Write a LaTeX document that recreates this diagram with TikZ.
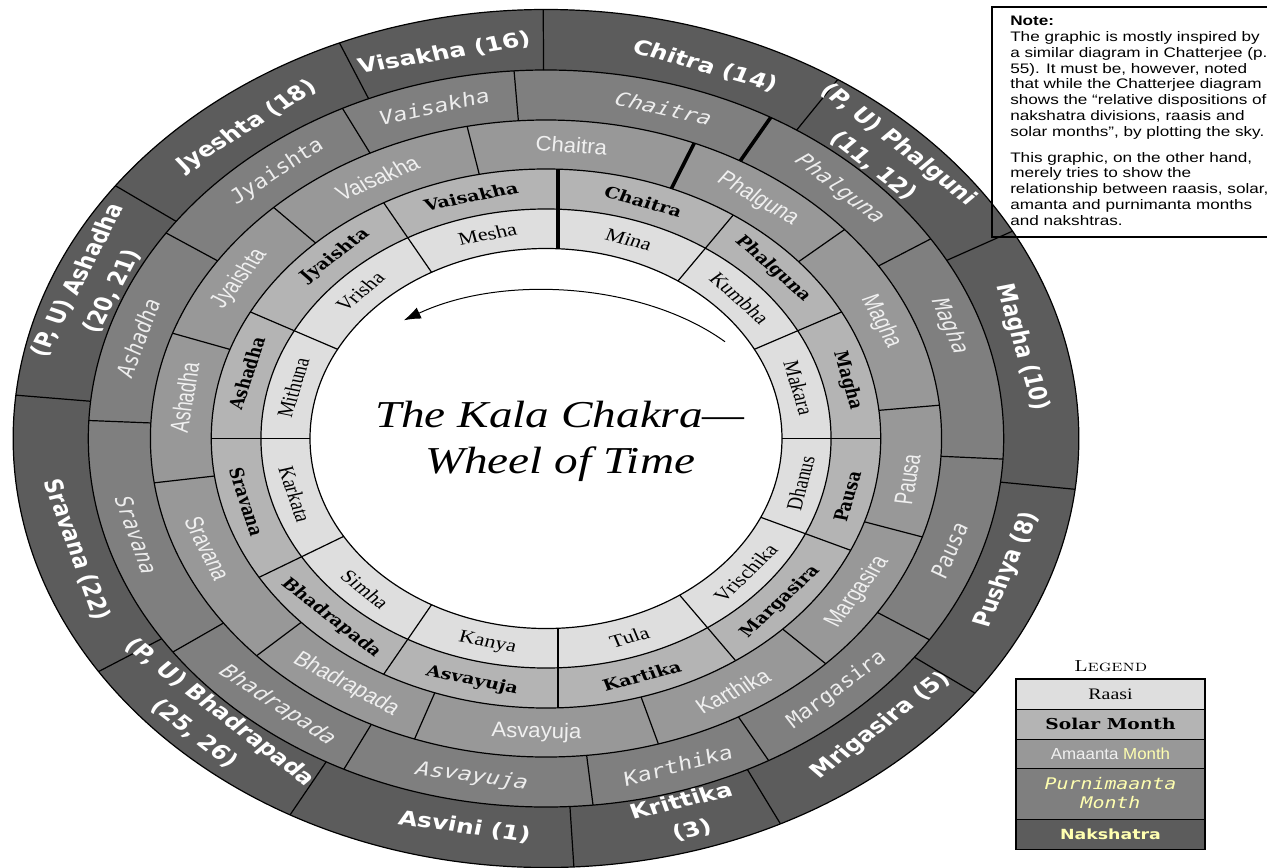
\documentclass[tikz,border=0pt]{standalone}
\usepackage{fontspec}
\usetikzlibrary{arrows.meta}

\newfontfamily\timesfont{Liberation Serif}
\newfontfamily\bookfont{DejaVu Serif}
\newfontfamily\narrowfont[FakeStretch=0.85]{Liberation Sans}
\newfontfamily\purnifont{DejaVu Sans Mono}
\newfontfamily\nakfont{DejaVu Sans}
\newfontfamily\notefont{Liberation Sans}

\definecolor{raasicol}{HTML}{DEDEDE}
\definecolor{solarcol}{HTML}{B4B4B4}
\definecolor{amantacol}{HTML}{989898}
\definecolor{purnicol}{HTML}{7F7F7F}
\definecolor{nakcol}{HTML}{5C5C5C}
\definecolor{amtext}{HTML}{F0F0F0}
\definecolor{pntext}{HTML}{EDEDED}
\definecolor{legyellow}{HTML}{FFFFB0}

\begin{document}
\begin{tikzpicture}[x=1pt, y=1pt, xscale=1.242,
    ring/.style={draw=black, line width=1.2pt},
    startline/.style={draw=black, line width=3.6pt},
    raasilab/.style={transform shape, inner sep=0pt, font=\timesfont\fontsize{18}{20}\selectfont},
    solarlab/.style={transform shape, inner sep=0pt, font=\bookfont\bfseries\fontsize{15.5}{18}\selectfont},
    amantalab/.style={transform shape, inner sep=0pt, text=amtext, font=\narrowfont\fontsize{21}{23}\selectfont},
    purnilab/.style={transform shape, inner sep=0pt, text=pntext, font=\purnifont\itshape\fontsize{19}{21}\selectfont},
    naklab/.style={transform shape, inner sep=0pt, text=white, align=center, font=\nakfont\bfseries\fontsize{20}{30}\selectfont},
    notetext/.style={transform shape, inner sep=0pt, align=left, font=\notefont\fontsize{13.8}{15.8}\selectfont},
    titletext/.style={transform shape, align=center, font=\timesfont\itshape\fontsize{38}{46}\selectfont},
    legrow/.style={transform shape, draw=black, line width=0.9pt, minimum width=151, inner sep=0pt, align=center},
  ]
   \useasboundingbox (-439.6,-428.5) rectangle (580.5,438.5);
   \fill[white] (-439.6,-428.5) rectangle (580.5,438.5);

   % note box
   \fill[white] (359.1,201.5) rectangle (586,431.5);
   \node[notetext, anchor=north west] (note) at (373.6,422.5) {\textbf{Note:}\\
     The graphic is mostly inspired by\\
     a similar diagram in Chatterjee (p.\\
     55). It must be, however, noted\\
     that while the Chatterjee diagram\\
     shows the “relative dispositions of\\
     nakshatra divisions, raasis and\\
     solar months”, by plotting the sky.\\[10pt]
     This graphic, on the other hand,\\
     merely tries to show the\\
     relationship between raasis, solar,\\
     amanta and purnimanta months\\
     and nakshtras.};

   % the rings
   \fill[nakcol] (0,0) circle (429);
   \fill[purnicol] (0,0) circle (368.5);
   \fill[amantacol] (0,0) circle (318.5);
   \fill[solarcol] (0,0) circle (269.5);
   \fill[raasicol] (0,0) circle (229.5);
   \fill[white] (0,0) circle (190);
   \foreach \r in {190,229.5,269.5,318.5,368.5,429}
     \draw[ring] (0,0) circle (\r);

   % divisions: raasi and solar month
   \foreach \a in {56,28,0,-24.5,-55.5,-119,-149,180,152,119}
     \draw[ring] (\a:190) -- (\a:269.5);
   \draw[ring] (9.66,-189.75) -- (9.66,-269.33);
   \draw[startline] (9.66,189.75) -- (9.66,269.33);
   % divisions: amanta month
   \foreach \a in {101.5,133.5,160.7,188,223,250.6,286.5,315,342,6,41}
     \draw[ring] (\a:269.5) -- (\a:318.5);
   \draw[startline] (68:269.5) -- (68:318.5);
   % divisions: purnimanta month
   \foreach \a in {94,116.4,146.1,177.2,215.4,243.8,275.9,299.1,326.9,356.8,32.8}
     \draw[ring] (\a:318.5) -- (\a:368.5);
   \draw[startline] (60.6:318.5) -- (60.6:368.5);
   % divisions: nakshatra
   \foreach \a in {56.8,90.3,112.8,143.9,174.2,212.9,241.3,273,296.1,323.6,353.2,28.9}
     \draw[ring] (\a:368.5) -- (\a:429);

   % labels
   \foreach \a/\lab [count=\i, evaluate=\a as \rot using {\a-90+180*(sin(\a)<0)}] in
     {103/Mesha, 71.5/Mina, 42/Kumbha, 14/Makara, -12.25/Dhanus, -40/Vrischika,
      -71.3/Tula, -103/Kanya, 226/Simha, 195.5/Karkata, 166/Mithuna, 135.5/Vrisha}
     \node[raasilab, rotate=\rot] (raasi-\i) at (\a:209.75) {\lab};
   \foreach \a/\lab [count=\i, evaluate=\a as \rot using {\a-90+180*(sin(\a)<0)}] in
     {104/Vaisakha, 71.7/Chaitra, 42.9/Phalguna, 13.4/Magha, -13.5/Pausa, -40.9/Margasira,
      -72/Kartika, -103.8/Asvayuja, 226.1/Bhadrapada, 194.8/Sravana, 164.9/Ashadha, 132.9/Jyaishta}
     \node[solarlab, rotate=\rot] (solar-\i) at (\a:249.5) {\lab};
   \foreach \a/\lab [count=\i, evaluate=\a as \rot using {\a-90+180*(sin(\a)<0)}] in
     {86/Chaitra, 117.5/Vaisakha, 147.1/Jyaishta, 172/Ashadha, 202/Sravana, 236.8/Bhadrapada,
      268.5/Asvayuja, 300.75/Karthika, 328.5/Margasira, 352/Pausa, 23.5/Magha, 54.5/Phalguna}
     \node[amantalab, rotate=\rot] (amanta-\i) at (\a:294) {\lab};
   \foreach \a/\lab [count=\i, evaluate=\a as \rot using {\a-90+180*(sin(\a)<0)}] in
     {74/Chaitra, 105.2/Vaisakha, 129/Jyaishta, 163/Ashadha, 196.3/Sravana, 231/Bhadrapada,
      260/Asvayuja, 288/Karthika, 313/Margasira, 341/Pausa, 19/Magha, 46.5/Phalguna}
     \node[purnilab, rotate=\rot] (purni-\i) at (\a:343.5) {\lab};
   \foreach \a/\lab [count=\i, evaluate=\a as \rot using {\a-90+180*(sin(\a)<0)}] in
     {102/{Visakha (16)}, 71/{Chitra (14)}, 46/{(P, U) Phalguni\\(11, 12)}, 13.4/{Magha (10)},
      -19.5/{Pushya (8)}, -46.8/{Mrigasira (5)}, -73.3/{Krittika\\(3)}, 260.4/{Asvini (1)},
      226.2/{(P, U) Bhadrapada\\(25, 26)}, 196.4/{Sravana (22)}, 157.2/{(P, U) Ashadha\\(20, 21)},
      127.6/{Jyeshta (18)}}
     \node[naklab, rotate=\rot] (nak-\i) at (\a:394) {\lab};

   \draw[line width=1.8pt] (359.1,201.5) rectangle (586,431.5);

   % centre
   \node[titletext] (title) at (11.3,-3) {The Kala Chakra—\\Wheel of Time};
   \draw[line width=1pt, -{Latex[length=17pt,width=12pt]}] (40.9:190.7 and 147.8)
     arc[start angle=40.9, end angle=126.9, x radius=190.7, y radius=147.8];

   % legend
   \node[transform shape, font=\rmfamily\scshape\fontsize{16}{18}\selectfont] (legtitle) at (454.6,-227.5) {Legend};
   \node[legrow, fill=raasicol, minimum height=30, font=\timesfont\fontsize{16}{18}\selectfont] (leg-raasi) at (454.5,-255.5) {Raasi};
   \node[legrow, fill=solarcol, minimum height=30, font=\bookfont\bfseries\fontsize{15}{17}\selectfont] (leg-solar) at (454.5,-285.5) {Solar Month};
   \node[legrow, fill=amantacol, minimum height=29, text=amtext, font=\narrowfont\fontsize{16}{18}\selectfont] (leg-amanta) at (454.5,-315) {Amaanta \textcolor{legyellow}{Month}};
   \node[legrow, fill=purnicol, minimum height=51, text=legyellow, font=\purnifont\itshape\fontsize{16}{19}\selectfont] (leg-purni) at (454.5,-355) {Purnimaanta\\Month};
   \node[legrow, fill=nakcol, minimum height=30, text=legyellow, font=\nakfont\bfseries\fontsize{14}{16}\selectfont] (leg-nak) at (454.5,-395.5) {Nakshatra};
   \draw[line width=1.8pt] (leg-raasi.north west) rectangle (leg-nak.south east);
\end{tikzpicture}
\end{document}
